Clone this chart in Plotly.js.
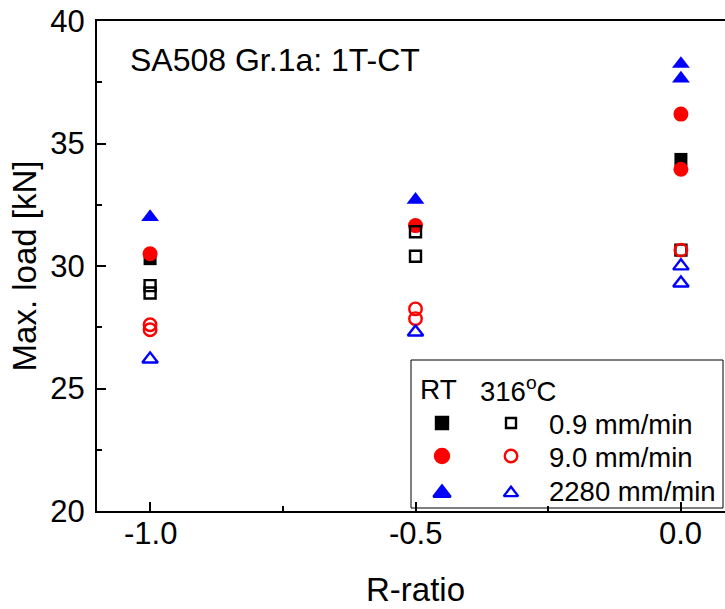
<!DOCTYPE html>
<html>
<head>
<meta charset="utf-8">
<script src="https://cdn.plot.ly/plotly-3.0.1.min.js"></script>
<style>
html, body { margin: 0; padding: 0; overflow: hidden; background: #fff; }
#chart { width: 740px; height: 609px; }
</style>
</head>
<body>
<div id="chart"></div>
<script>
// ---- data (R-ratio vs max. load, kN) ----
const rtSlowX = [-1.0, 0.0];
const rtSlowY = [30.3, 34.35];
const rtMidX  = [-1.0, -0.5, 0.0, 0.0];
const rtMidY  = [30.5, 31.65, 36.2, 33.95];
const rtFastX = [-1.0, -0.5, 0.0, 0.0];
const rtFastY = [32.0, 32.7, 38.25, 37.65];
const htSlowX = [-1.0, -1.0, -0.5, -0.5, 0.0];
const htSlowY = [29.2, 28.9, 31.4, 30.4, 30.65];
const htMidX  = [-1.0, -1.0, -0.5, -0.5, 0.0];
const htMidY  = [27.6, 27.4, 28.25, 27.85, 30.65];
const htFastX = [-1.0, -0.5, 0.0, 0.0];
const htFastY = [26.2, 27.3, 30.0, 29.3];

const rateLabels = ['0.9 mm/min', '9.0 mm/min', '2280 mm/min'];
const tempLabels = ['RT', '316<sup>o</sup>C'];
const chartLabel = 'SA508 Gr.1a: 1T-CT';
const xTickVals = [-1.0, -0.5, 0.0];
const xTickText = ['-1.0', '-0.5', '0.0'];
const yTickVals = [20, 25, 30, 35, 40];

const FONT = '"Liberation Sans", Arial, sans-serif';
const BLACK = '#000000', RED = '#ff0000', BLUE = '#0000ff';

function filled(x, y, sym, color, size) {
  return { x, y, type: 'scatter', mode: 'markers', showlegend: false, hoverinfo: 'skip',
    marker: { symbol: sym, color: color, size: size, opacity: 1, line: { width: 0 } } };
}
function open(x, y, sym, color, size) {
  return { x, y, type: 'scatter', mode: 'markers', showlegend: false, hoverinfo: 'skip',
    marker: { symbol: sym, color: color, size: size, opacity: 1, line: { width: 2.4, color: color } } };
}

const traces = [
  filled(rtSlowX, rtSlowY, 'square', BLACK, 13),
  filled(rtMidX, rtMidY, 'circle', RED, 15),
  filled(rtFastX, rtFastY, 'triangle-up', BLUE, 15.5),
  open(htSlowX, htSlowY, 'square-open', BLACK, 11),
  open(htMidX, htMidY, 'circle-open', RED, 12.5),
  open(htFastX, htFastY, 'triangle-up-open', BLUE, 13.5)
];

// legend key symbols drawn on a hidden overlay axis measured in pixels
const keyX = [442, 511, 442, 511, 442, 511];
const keyY = [423, 423, 456, 456, 493, 493];
traces.push({
  x: keyX, y: keyY, xaxis: 'x2', yaxis: 'y2', type: 'scatter', mode: 'markers',
  showlegend: false, hoverinfo: 'skip',
  marker: {
    symbol: ['square', 'square-open', 'circle', 'circle-open', 'triangle-up', 'triangle-up-open'],
    color: [BLACK, BLACK, RED, RED, BLUE, BLUE],
    size: [12, 10, 14, 12.5, 15, 12.5],
    opacity: 1,
    line: { width: 2.4, color: [BLACK, BLACK, RED, RED, BLUE, BLUE] }
  }
});

const annotations = [
  { xref: 'x2', yref: 'y2', x: 128, y: 60, text: chartLabel, showarrow: false,
    xanchor: 'left', yanchor: 'middle', font: { family: FONT, size: 32, color: BLACK } },
  { xref: 'x2', yref: 'y2', x: 418, y: 389, text: tempLabels[0], showarrow: false,
    xanchor: 'left', yanchor: 'middle', font: { family: FONT, size: 28, color: BLACK } },
  { xref: 'x2', yref: 'y2', x: 478, y: 389, text: tempLabels[1], showarrow: false,
    xanchor: 'left', yanchor: 'middle', font: { family: FONT, size: 27.5, color: BLACK } }
];
const rowY = [424, 457, 491];
rateLabels.forEach((t, i) => annotations.push({
  xref: 'x2', yref: 'y2', x: 547, y: rowY[i], text: t, showarrow: false,
  xanchor: 'left', yanchor: 'middle', font: { family: FONT, size: 27.5, color: BLACK }
}));
// x tick labels placed at the axis values, just under the axis line (paper y below 0)
const plotBottom = 511, plotHeight = 490;
xTickVals.forEach((v, i) => annotations.push({
  xref: 'x', yref: 'paper', x: v, y: (plotBottom - 533) / plotHeight, text: xTickText[i], showarrow: false,
  xanchor: 'center', yanchor: 'middle', font: { family: FONT, size: 31, color: BLACK }
}));

const layout = {
  width: 740, height: 609,
  margin: { l: 97, r: 6, t: 21, b: 98, pad: 0 },
  paper_bgcolor: '#ffffff', plot_bgcolor: '#ffffff',
  showlegend: false,
  font: { family: FONT, color: BLACK },
  xaxis: {
    range: [-1.1, 0.1], tickvals: xTickVals, showticklabels: false,
    ticks: 'inside', ticklen: 9, tickwidth: 2, tickcolor: BLACK,
    minor: { ticks: 'inside', dtick: 0.25, tick0: 0, ticklen: 5, tickwidth: 2, tickcolor: BLACK, showgrid: false },
    showline: true, linewidth: 2, linecolor: BLACK, mirror: true,
    showgrid: false, zeroline: false,
    title: { text: 'R-ratio', font: { family: FONT, size: 33, color: BLACK }, standoff: 66 }
  },
  yaxis: {
    range: [20, 40], tickvals: yTickVals,
    ticks: 'inside', ticklen: 9, tickwidth: 2, tickcolor: BLACK,
    minor: { ticks: 'inside', dtick: 2.5, tick0: 20, ticklen: 5, tickwidth: 2, tickcolor: BLACK, showgrid: false },
    showline: true, linewidth: 2, linecolor: BLACK, mirror: false,
    showgrid: false, zeroline: false,
    tickfont: { family: FONT, size: 31, color: BLACK },
    ticklabelstandoff: 4,
    title: { text: 'Max. load [kN]', font: { family: FONT, size: 33, color: BLACK }, standoff: 4 }
  },
  xaxis2: { overlaying: 'x', anchor: 'y2', range: [97, 734], visible: false, fixedrange: true },
  yaxis2: { overlaying: 'y', anchor: 'x2', range: [511, 21], visible: false, fixedrange: true },
  shapes: [
    { type: 'rect', xref: 'x2', yref: 'y2', x0: 411, x1: 723, y0: 360, y1: 508,
      line: { color: BLACK, width: 1 }, fillcolor: '#ffffff', layer: 'below' }
  ],
  annotations: annotations
};

Plotly.newPlot('chart', traces, layout, { staticPlot: true, displayModeBar: false });
</script>
</body>
</html>
